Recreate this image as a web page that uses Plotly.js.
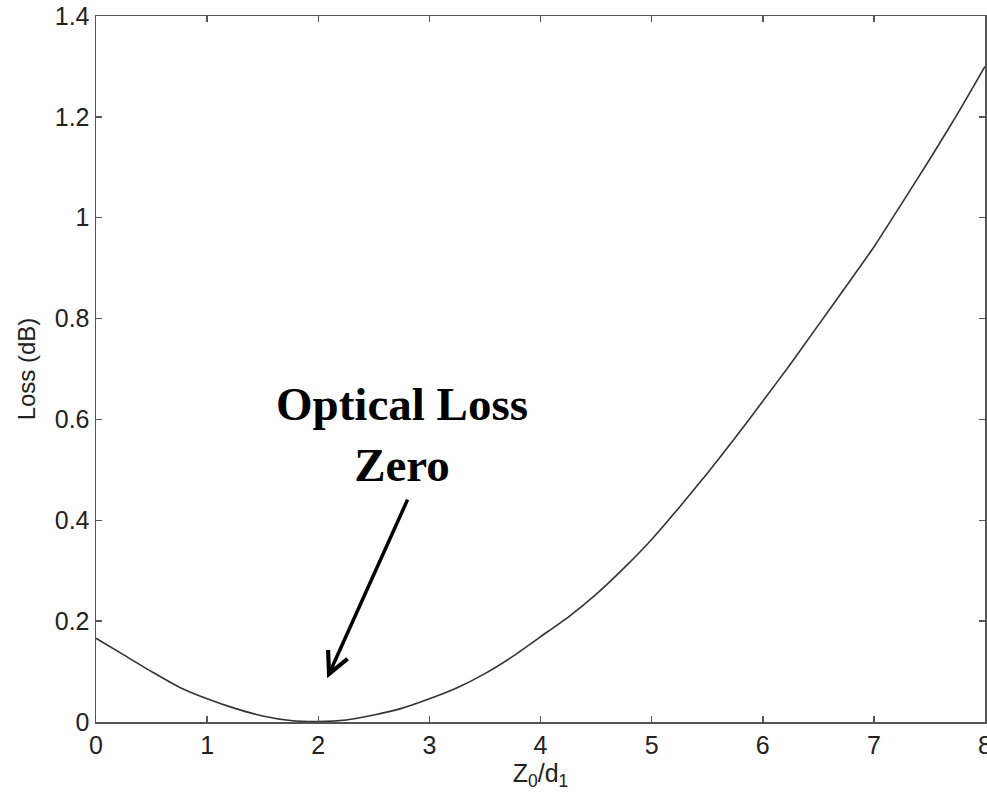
<!DOCTYPE html>
<html>
<head>
<meta charset="utf-8">
<script src="https://cdn.plot.ly/plotly-3.0.1.min.js"></script>
<style>html,body{margin:0;padding:0;background:#fff;}#chart{width:987px;height:800px;}</style>
</head>
<body>
<div id="chart"></div>
<script>
// Z0/d1 values
const ratio = [0, 0.25, 0.5, 0.75, 1, 1.25, 1.5, 1.75, 2, 2.25, 2.5, 2.75, 3, 3.25, 3.5, 3.75, 4, 4.25, 4.5, 4.75, 5, 5.25, 5.5, 5.75, 6, 6.25, 6.5, 6.75, 7, 7.25, 7.5, 7.75, 8];
// Loss (dB)
const loss = [0.166, 0.133, 0.100, 0.069, 0.046, 0.027, 0.012, 0.003, 0.001, 0.004, 0.014, 0.027, 0.046, 0.068, 0.096, 0.130, 0.169, 0.208, 0.253, 0.305, 0.362, 0.426, 0.493, 0.563, 0.636, 0.710, 0.787, 0.864, 0.942, 1.028, 1.115, 1.205, 1.300];
const xTicks = [0, 1, 2, 3, 4, 5, 6, 7, 8];
const yTicks = [0, 0.2, 0.4, 0.6, 0.8, 1, 1.2, 1.4];
const annotationText = "Optical Loss<br>Zero";
const arrowTip = [2.08, 0.087];
const arrowTail = [2.81, 0.444];
const textPos = [2.75, 0.455];

const axisColor = '#555';
const tickFont = {family: 'Liberation Sans, Arial, sans-serif', size: 25, color: '#222'};

Plotly.newPlot('chart', [{
  x: ratio, y: loss, type: 'scatter', mode: 'lines',
  line: {color: '#333', width: 1.6, shape: 'spline', smoothing: 0.6}, showlegend: false, hoverinfo: 'skip'
}], {
  width: 987, height: 800,
  margin: {l: 96, r: 2, t: 16, b: 78},
  paper_bgcolor: '#fff', plot_bgcolor: '#fff',
  xaxis: {
    range: [0, 8], tickvals: xTicks, ticktext: xTicks.map(String),
    ticks: 'inside', ticklen: 6, tickcolor: axisColor, tickwidth: 1.5,
    showline: true, linecolor: axisColor, linewidth: 1.5, mirror: 'allticks',
    showgrid: false, zeroline: false, tickfont: tickFont, ticklabeloverflow: 'allow',
    title: {text: 'Z<sub>0</sub>/d<sub>1</sub>', font: tickFont, standoff: 6}
  },
  yaxis: {
    range: [0, 1.4], tickvals: yTicks, ticktext: yTicks.map(String),
    ticks: 'inside', ticklen: 6, tickcolor: axisColor, tickwidth: 1.5,
    showline: true, linecolor: axisColor, linewidth: 1.5, mirror: 'allticks',
    showgrid: false, zeroline: false, tickfont: tickFont, ticklabeloverflow: 'allow',
    title: {text: 'Loss (dB)', font: {family: 'Liberation Sans, Arial, sans-serif', size: 24, color: '#222'}, standoff: 12}
  },
  annotations: [
    {x: textPos[0], y: textPos[1], xref: 'x', yref: 'y', text: annotationText, showarrow: false,
     font: {family: 'Liberation Serif, Times New Roman, serif', size: 47, color: '#000', weight: 'bold'},
     align: 'center', xanchor: 'center', yanchor: 'bottom'},
    {x: arrowTip[0], y: arrowTip[1], xref: 'x', yref: 'y', axref: 'x', ayref: 'y',
     ax: arrowTail[0], ay: arrowTail[1], text: '', showarrow: true,
     arrowhead: 5, arrowsize: 1.2, arrowwidth: 3.5, arrowcolor: '#000'}
  ]
}, {staticPlot: true, displayModeBar: false});
</script>
</body>
</html>
